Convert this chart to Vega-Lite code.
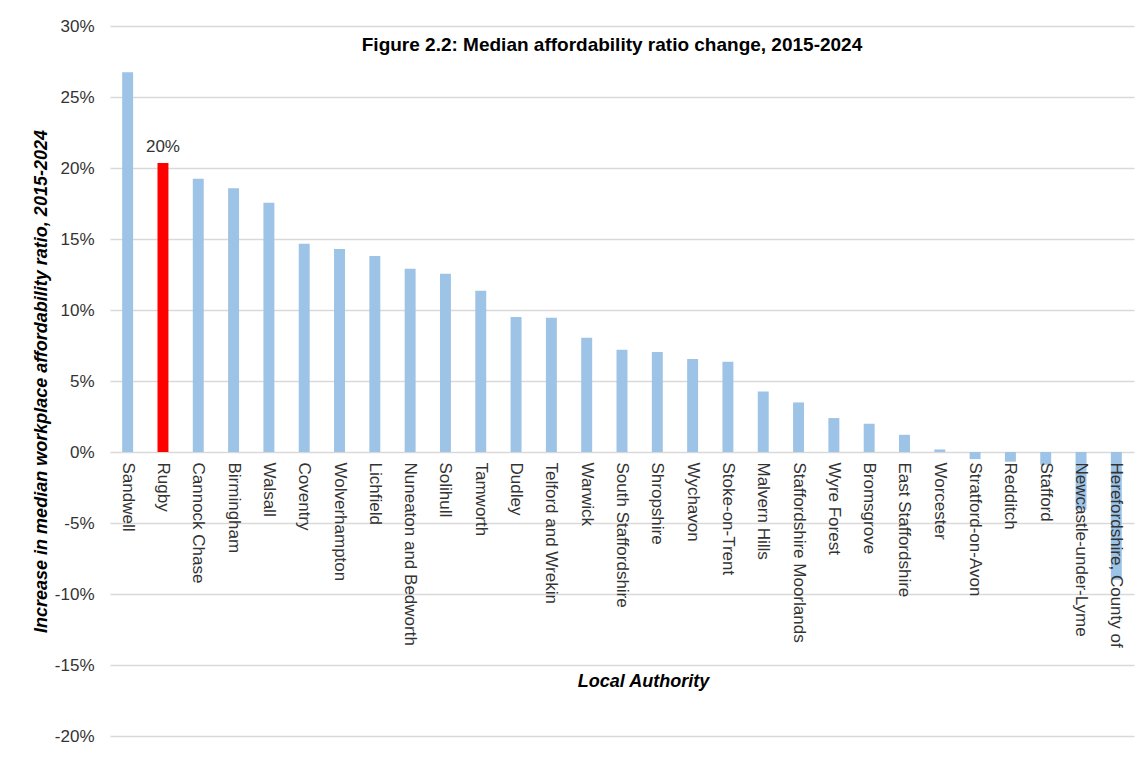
{
  "$schema": "https://vega.github.io/schema/vega-lite/v6.json",
  "width": 1024,
  "height": 710,
  "autosize": {"type": "none"},
  "padding": {"left": 110, "top": 26, "right": 10, "bottom": 40},
  "background": "white",
  "config": {"font": "Liberation Sans", "view": {"stroke": null}},
  "title": {
    "text": "Figure 2.2: Median affordability ratio change, 2015-2024",
    "fontSize": 19,
    "fontWeight": "bold",
    "color": "#000000",
    "anchor": "middle",
    "offset": -38,
    "dx": -10
  },
  "data": {
    "values": [
      {"name": "Sandwell", "value": 26.74, "label": ""},
      {"name": "Rugby", "value": 20.36, "label": "20%"},
      {"name": "Cannock Chase", "value": 19.25, "label": ""},
      {"name": "Birmingham", "value": 18.57, "label": ""},
      {"name": "Walsall", "value": 17.56, "label": ""},
      {"name": "Coventry", "value": 14.67, "label": ""},
      {"name": "Wolverhampton", "value": 14.3, "label": ""},
      {"name": "Lichfield", "value": 13.8, "label": ""},
      {"name": "Nuneaton and Bedworth", "value": 12.9, "label": ""},
      {"name": "Solihull", "value": 12.55, "label": ""},
      {"name": "Tamworth", "value": 11.35, "label": ""},
      {"name": "Dudley", "value": 9.5, "label": ""},
      {"name": "Telford and Wrekin", "value": 9.45, "label": ""},
      {"name": "Warwick", "value": 8.05, "label": ""},
      {"name": "South Staffordshire", "value": 7.2, "label": ""},
      {"name": "Shropshire", "value": 7.05, "label": ""},
      {"name": "Wychavon", "value": 6.55, "label": ""},
      {"name": "Stoke-on-Trent", "value": 6.35, "label": ""},
      {"name": "Malvern Hills", "value": 4.26, "label": ""},
      {"name": "Staffordshire Moorlands", "value": 3.49, "label": ""},
      {"name": "Wyre Forest", "value": 2.39, "label": ""},
      {"name": "Bromsgrove", "value": 1.99, "label": ""},
      {"name": "East Staffordshire", "value": 1.21, "label": ""},
      {"name": "Worcester", "value": 0.18, "label": ""},
      {"name": "Stratford-on-Avon", "value": -0.5, "label": ""},
      {"name": "Redditch", "value": -0.68, "label": ""},
      {"name": "Stafford", "value": -0.9, "label": ""},
      {"name": "Newcastle-under-Lyme", "value": -4.05, "label": ""},
      {"name": "Herefordshire, County of", "value": -9.0, "label": ""}
    ]
  },
  "encoding": {
    "x": {
      "field": "name",
      "type": "nominal",
      "sort": null,
      "scale": {"paddingInner": 0.69, "paddingOuter": 0.345},
      "axis": {
        "orient": "bottom",
        "offset": -284,
        "domain": false,
        "ticks": false,
        "grid": false,
        "labelAngle": 90,
        "labelAlign": "left",
        "labelBaseline": "middle",
        "labelPadding": 10,
        "labelFontSize": 17,
        "labelColor": "#333333",
        "labelOverlap": false,
        "labelLimit": 300,
        "title": "Local Authority",
        "titleFontSize": 18,
        "titleFontWeight": "bold",
        "titleFontStyle": "italic",
        "titleColor": "#000000",
        "titlePadding": 25,
        "titleX": 533,
        "zindex": 1
      }
    },
    "y": {
      "field": "value",
      "type": "quantitative",
      "scale": {"domain": [-20, 30], "nice": false, "zero": false},
      "axis": {
        "values": [-20, -15, -10, -5, 0, 5, 10, 15, 20, 25, 30],
        "labelExpr": "datum.value + '%'",
        "grid": true,
        "gridColor": "#d9d9d9",
        "gridWidth": 1.5,
        "domain": false,
        "ticks": false,
        "labelPadding": 16,
        "labelFontSize": 17,
        "labelColor": "#333333",
        "title": "Increase in median workplace affordability ratio, 2015-2024",
        "titleFontSize": 18,
        "titleFontWeight": "bold",
        "titleFontStyle": "italic",
        "titleColor": "#000000",
        "titlePadding": 4
      }
    }
  },
  "layer": [
    {
      "mark": {"type": "bar"},
      "encoding": {
        "color": {
          "condition": {"test": "datum.name === 'Rugby'", "value": "#ff0000"},
          "value": "#9dc3e6"
        }
      }
    },
    {
      "transform": [{"filter": "datum.label !== ''"}],
      "mark": {"type": "text", "baseline": "bottom", "dy": -7, "fontSize": 17, "color": "#333333"},
      "encoding": {"text": {"field": "label"}}
    }
  ]
}
